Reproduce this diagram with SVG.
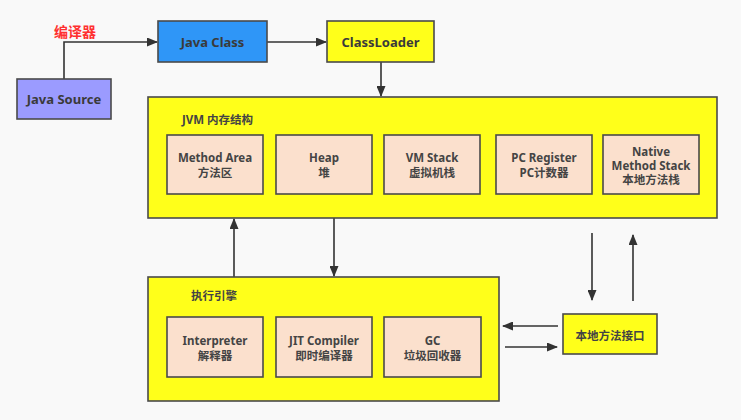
<svg xmlns="http://www.w3.org/2000/svg" width="741" height="420" viewBox="0 0 741 420">
<defs>
<marker id="ah" markerWidth="11" markerHeight="9" refX="10" refY="4.5" orient="auto" markerUnits="userSpaceOnUse">
<path d="M0,0 L11,4.5 L0,9 z" fill="#333"/>
</marker>
<style>
.box{stroke:#4a4a4a;stroke-width:1.6}
.yel{fill:#ffff1a}
.inner{fill:#fbe0cd}
.t{font-family:"Noto Sans","Noto Sans CJK SC",sans-serif;font-weight:bold;font-size:11.5px;fill:#444;text-anchor:middle}
.tb{font-size:13px;fill:#3a3a3a}
.title{text-anchor:start}
.ln{fill:none;stroke:#333;stroke-width:1.6}
</style>
</defs>
<rect width="741" height="420" fill="#f9f9f9"/>
<g id="connectors">
<path class="ln" d="M64,79 V42 H157" marker-end="url(#ah)"/>
<path class="ln" d="M267,42 H326" marker-end="url(#ah)"/>
<path class="ln" d="M381,62 V96" marker-end="url(#ah)"/>
<path class="ln" d="M234,277 V219" marker-end="url(#ah)"/>
<path class="ln" d="M334,218 V276" marker-end="url(#ah)"/>
<path class="ln" d="M592,233 V300" marker-end="url(#ah)"/>
<path class="ln" d="M633,301 V235" marker-end="url(#ah)"/>
<path class="ln" d="M558,326 H503" marker-end="url(#ah)"/>
<path class="ln" d="M505,347 H557" marker-end="url(#ah)"/>
<text x="75" y="37" style="font-family:'Noto Sans CJK SC',sans-serif;font-weight:bold;font-size:14px;fill:#ff3030;text-anchor:middle">编译器</text>
</g>
<g id="java-source">
<rect class="box" x="17" y="79" width="94" height="40" fill="#9b9bff"/>
<text class="t tb" x="64" y="104">Java Source</text>
</g>
<g id="java-class">
<rect class="box" x="158" y="21" width="109" height="41" fill="#2f96f7"/>
<text class="t tb" x="212.5" y="46.5">Java Class</text>
</g>
<g id="classloader">
<rect class="box yel" x="327" y="21" width="107" height="41"/>
<text class="t tb" x="380.5" y="46.5">ClassLoader</text>
</g>
<g id="jvm">
<rect class="box yel" x="148" y="97" width="569" height="121"/>
<text class="t title" x="182" y="124">JVM 内存结构</text>
</g>
<g id="method-area">
<rect class="box inner" x="167" y="135" width="96" height="59"/>
<text class="t" x="215" y="162">Method Area</text>
<text class="t" x="215" y="177">方法区</text>
</g>
<g id="heap">
<rect class="box inner" x="276" y="135" width="96" height="59"/>
<text class="t" x="324" y="162">Heap</text>
<text class="t" x="324" y="177">堆</text>
</g>
<g id="vm-stack">
<rect class="box inner" x="384" y="135" width="96" height="59"/>
<text class="t" x="432" y="162">VM Stack</text>
<text class="t" x="432" y="177">虚拟机栈</text>
</g>
<g id="pc-register">
<rect class="box inner" x="496" y="135" width="96" height="59"/>
<text class="t" x="544" y="162">PC Register</text>
<text class="t" x="544" y="177">PC计数器</text>
</g>
<g id="native-method-stack">
<rect class="box inner" x="603" y="135" width="96" height="59"/>
<text class="t" x="651" y="156">Native</text>
<text class="t" x="651" y="170">Method Stack</text>
<text class="t" x="651" y="184">本地方法栈</text>
</g>
<g id="execution-engine">
<rect class="box yel" x="148" y="277" width="351" height="124"/>
<text class="t title" x="191" y="300">执行引擎</text>
</g>
<g id="interpreter">
<rect class="box inner" x="167" y="317" width="96" height="60"/>
<text class="t" x="215" y="345">Interpreter</text>
<text class="t" x="215" y="360">解释器</text>
</g>
<g id="jit-compiler">
<rect class="box inner" x="276" y="317" width="96" height="60"/>
<text class="t" x="324" y="345">JIT Compiler</text>
<text class="t" x="324" y="360">即时编译器</text>
</g>
<g id="gc">
<rect class="box inner" x="384" y="317" width="97" height="60"/>
<text class="t" x="432.5" y="345">GC</text>
<text class="t" x="432.5" y="360">垃圾回收器</text>
</g>
<g id="native-interface">
<rect class="box yel" x="563" y="314" width="94" height="40"/>
<text class="t" x="610" y="340">本地方法接口</text>
</g>
</svg>
